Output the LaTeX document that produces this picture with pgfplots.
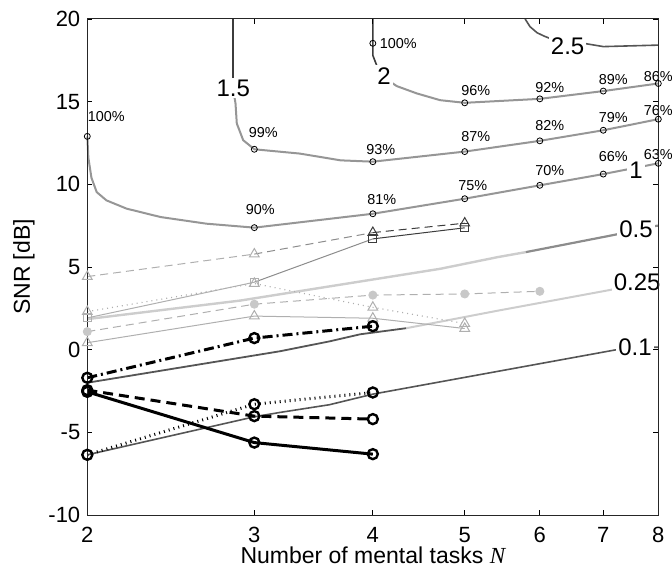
\documentclass[border=0pt]{standalone}
\usepackage{fontspec}
\setmainfont{Liberation Sans}
\newfontfamily\serifit{Liberation Serif}
\usepackage{pgfplots}
\pgfplotsset{compat=1.18}
\definecolor{lg}{RGB}{175,175,175}
\definecolor{lfill}{RGB}{200,200,200}
\definecolor{mg}{RGB}{140,140,140}
\definecolor{dg}{RGB}{60,60,60}
\definecolor{cg}{RGB}{150,150,150}
\definecolor{cl}{RGB}{205,205,205}
\definecolor{cd}{RGB}{85,85,85}
\newcommand{\pf}{\fontsize{7.2}{8}\selectfont}
\newcommand{\cf}{\fontsize{12}{13}\selectfont}
\begin{document}
\begin{tikzpicture}
\useasboundingbox (0,0) rectangle (336pt,283pt);
\begin{axis}[
  at={(43.65pt,25.5pt)}, anchor=south west,
  scale only axis, width=285.5pt, height=248pt,
  xmode=log, xmin=2, xmax=8, ymin=-10, ymax=20,
  xtick={2,3,4,5,6,7,8}, xticklabels={2,3,4,5,6,7,8},
  ytick={-10,-5,0,5,10,15,20}, yticklabels={-10,-5,0,5,10,15,20},
  xminorticks=false, yminorticks=false,
  tick align=inside, major tick length=2.5pt,
  tick style={black, line width=0.4pt},
  axis line style={black!85, line width=0.5pt},
  ticklabel style={font=\fontsize{11}{12}\selectfont},
  xticklabel style={yshift=-2.5pt},
  xlabel={Number of mental tasks {\serifit\itshape N}},
  ylabel={SNR [dB]},
  label style={font=\fontsize{11.5}{13}\selectfont},
  xlabel style={at={(axis description cs:0.5,-0.0968)}, anchor=base},
  ylabel style={at={(axis description cs:-0.1109,0.5)}, anchor=center},
  clip=false, axis on top,
]
% ---- contours ----
\addplot[cd, line width=0.8pt] coordinates {(2,-6.36)(3,-4.06)(3.19,-3.8)(3.60,-3.33)(4,-2.69)(7.2,-0.02)(7.6,0.12)(8,0.15)};
\addplot[cd, line width=0.9pt] coordinates {(2,-2.0)(3.19,-0.1)(3.60,0.5)(3.88,0.93)(4.34,1.3)};
\addplot[cl, line width=1pt] coordinates {(4.34,1.3)(5.42,2.36)(7.13,3.62)(7.5,3.95)};
\addplot[cl, line width=1.2pt] coordinates {(2,1.85)(2.9,2.97)(4.71,4.89)(5.42,5.6)(5.8,5.9)};
\addplot[mg, line width=1.1pt] coordinates {(5.8,5.9)(7.2,6.95)(7.85,7.45)(8,7.5)};
\addplot[cg, line width=1pt] coordinates {(2,12.9)(2.005,11.6)(2.02,10.4)(2.046,9.53)(2.095,9.03)(2.2,8.53)(2.39,8.02)(2.67,7.62)(3,7.38)(4,8.22)(5,9.13)(6,9.94)(7,10.62)(8,11.27)};
\addplot[dg, line width=0.8pt] coordinates {(2.85,20)(2.85,16.0)};
\addplot[cg, line width=1pt] coordinates {(2.85,16.0)(2.855,15.5)(2.866,14.89)(2.875,13.68)(2.92,12.67)(3,12.12)(3.35,11.86)(3.70,11.45)(4,11.37)(5,11.98)(6,12.63)(7,13.27)(8,13.94)};
\addplot[dg, line width=0.8pt] coordinates {(4,20)(4,17.8)(4.05,17.0)};
\addplot[cg, line width=1pt] coordinates {(4.05,17.0)(4.15,16.3)(4.24,15.94)(4.45,15.5)(4.71,15.09)(5,14.93)(6,15.17)(7,15.64)(8,16.10)};
\addplot[cd, line width=0.8pt] coordinates {(5.79,20)(5.86,19.53)(5.96,19.17)(6.06,18.97)(6.42,18.4)(6.67,18.53)(7,18.33)(8,18.42)};
% ---- light series ----
\addplot[lg, line width=0.5pt, dash pattern=on 4pt off 2.5pt] coordinates {(2,4.42)(3,5.78)};
\addplot[mg, line width=0.5pt, dash pattern=on 4pt off 2.5pt] coordinates {(3,5.78)(4,7.08)};
\addplot[dg, line width=0.5pt, dash pattern=on 4pt off 2.5pt] coordinates {(4,7.08)(5,7.65)};
\addplot[lg, only marks, mark=triangle, mark size=2.8pt, mark options={line width=0.5pt}] coordinates {(2,4.42)(3,5.78)};
\addplot[dg, only marks, mark=triangle, mark size=2.8pt, mark options={line width=0.5pt}] coordinates {(4,7.08)(5,7.65)};
\addplot[lg, line width=0.5pt] coordinates {(2,1.92)(3,4.08)};
\addplot[mg, line width=0.5pt] coordinates {(3,4.08)(4,6.7)};
\addplot[dg, line width=0.5pt] coordinates {(4,6.7)(5,7.37)};
\addplot[lg, only marks, mark=square, mark size=2pt, mark options={line width=0.5pt}] coordinates {(2,1.92)(3,4.08)};
\addplot[dg, only marks, mark=square, mark size=2pt, mark options={line width=0.5pt}] coordinates {(4,6.7)(5,7.37)};
\addplot[lg, line width=0.6pt, dash pattern=on 0.5pt off 2pt, mark=triangle, mark size=2.8pt, mark options={solid, line width=0.5pt}] coordinates {(2,2.3)(3,4.0)(4,2.56)(5,1.58)};
\addplot[lg, line width=0.5pt, dash pattern=on 4pt off 2.5pt, mark=*, mark size=2pt, mark options={solid, fill=lfill, draw=lfill}] coordinates {(2,1.09)(3,2.75)(4,3.3)(5,3.37)(6,3.53)};
\addplot[lg, line width=0.5pt, mark=triangle, mark size=2.8pt, mark options={line width=0.5pt}] coordinates {(2,0.42)(3,2.03)(4,1.9)(5,1.28)};
% ---- thick black series ----
\addplot[black, line width=1.5pt, dash pattern=on 5pt off 2pt on 1pt off 2pt, mark=o, mark size=2.5pt, mark options={solid, line width=1.2pt}] coordinates {(2,-1.7)(3,0.7)(4,1.42)};
\addplot[black, line width=1.5pt, dash pattern=on 5pt off 3pt, mark=o, mark size=2.5pt, mark options={solid, line width=1.2pt}] coordinates {(2,-2.45)(3,-4.02)(4,-4.2)};
\addplot[black, line width=1.5pt, mark=o, mark size=2.5pt, mark options={solid, line width=1.2pt}] coordinates {(2,-2.55)(3,-5.62)(4,-6.32)};
\addplot[black, line width=1.5pt, dash pattern=on 0.5pt off 2pt, mark=o, mark size=2.5pt, mark options={solid, line width=1.2pt}] coordinates {(2,-6.36)(3,-3.3)(4,-2.59)};
% ---- percent circles ----
\addplot[black, only marks, mark=o, mark size=1.5pt, mark options={line width=0.4pt}] coordinates {(2,12.9)(3,12.12)(3,7.38)(4,18.53)(4,11.37)(4,8.22)(5,14.93)(5,11.98)(5,9.13)(6,15.17)(6,12.63)(6,9.94)(7,15.64)(7,13.27)(7,10.62)(8,16.10)(8,13.94)(8,11.27)};
% ---- contour labels ----
\node[font=\cf, fill=white, inner sep=1pt] at (axis cs:7.56,0.14) {0.1};
\node[font=\cf, fill=white, inner sep=1pt] at (axis cs:7.6,4.08) {0.25};
\node[font=\cf, fill=white, inner sep=1pt] at (axis cs:7.58,7.31) {0.5};
\node[font=\cf, fill=white, inner sep=1pt] at (axis cs:7.58,10.85) {1};
\node[font=\cf, fill=white, inner sep=1pt] at (axis cs:2.85,15.82) {1.5};
\node[font=\cf, fill=white, inner sep=1pt] at (axis cs:4.11,16.56) {2};
\node[font=\cf, fill=white, inner sep=1pt] at (axis cs:6.42,18.35) {2.5};
% ---- percent labels ----
\node[font=\pf, xshift=9.5pt, yshift=10pt] at (axis cs:2,12.9) {100\%};
\node[font=\pf, xshift=4.5pt, yshift=8.5pt] at (axis cs:3,12.12) {99\%};
\node[font=\pf, xshift=3pt, yshift=9pt] at (axis cs:3,7.38) {90\%};
\node[font=\pf, xshift=12.75pt, yshift=0pt] at (axis cs:4,18.53) {100\%};
\node[font=\pf, xshift=4pt, yshift=6pt] at (axis cs:4,11.37) {93\%};
\node[font=\pf, xshift=4.5pt, yshift=7pt] at (axis cs:4,8.22) {81\%};
\node[font=\pf, xshift=5.5pt, yshift=6pt] at (axis cs:5,14.93) {96\%};
\node[font=\pf, xshift=5.5pt, yshift=7.5pt] at (axis cs:5,11.98) {87\%};
\node[font=\pf, xshift=4pt, yshift=6.5pt] at (axis cs:5,9.13) {75\%};
\node[font=\pf, xshift=5pt, yshift=5.5pt] at (axis cs:6,15.17) {92\%};
\node[font=\pf, xshift=5pt, yshift=7.5pt] at (axis cs:6,12.63) {82\%};
\node[font=\pf, xshift=5pt, yshift=7.5pt] at (axis cs:6,9.94) {70\%};
\node[font=\pf, xshift=5pt, yshift=6pt] at (axis cs:7,15.64) {89\%};
\node[font=\pf, xshift=5pt, yshift=6.5pt] at (axis cs:7,13.27) {79\%};
\node[font=\pf, xshift=5pt, yshift=9pt] at (axis cs:7,10.62) {66\%};
\node[font=\pf, xshift=0pt, yshift=3.5pt] at (axis cs:8,16.10) {86\%};
\node[font=\pf, xshift=0pt, yshift=4.5pt] at (axis cs:8,13.94) {76\%};
\node[font=\pf, xshift=0pt, yshift=4.5pt] at (axis cs:8,11.27) {63\%};
\end{axis}
\end{tikzpicture}
\end{document}
